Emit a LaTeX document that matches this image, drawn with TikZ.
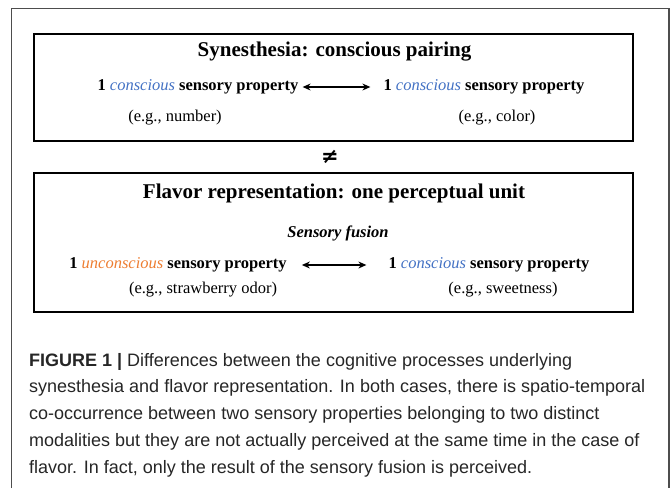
\documentclass[tikz,border=0pt]{standalone}
\usepackage{fontspec}
\setmainfont{Liberation Serif}
\newfontfamily\capfont{Liberation Sans}
\newfontfamily\symfont{DejaVu Sans}
\usetikzlibrary{arrows.meta}
\definecolor{cblue}{HTML}{4472C4}
\definecolor{corange}{HTML}{ED7D31}
\definecolor{capgray}{HTML}{262626}
\definecolor{framegray}{HTML}{4D4D4D}
\begin{document}
\begin{tikzpicture}[x=1pt,y=-1pt,
  boxstyle/.style={draw=black, line width=2pt, inner sep=0pt, minimum width=599.5pt},
  titlestyle/.style={font=\fontsize{21}{24}\selectfont\bfseries, inner sep=0pt},
  rowstyle/.style={font=\fontsize{16.5}{19}\selectfont\bfseries, inner sep=0pt},
  egstyle/.style={font=\fontsize{16.5}{19}\selectfont, inner sep=0pt},
  link/.style={{Stealth[length=8pt,width=7pt]}-{Stealth[length=8pt,width=7pt]}, line width=1.1pt},
  capstyle/.style={font=\capfont\fontsize{18}{26}\selectfont, text=capgray, anchor=base west, inner sep=0pt}
]
\useasboundingbox (0,0) rectangle (670,488);
% outer frame (open at the bottom)
\draw[framegray, line width=1.2pt] (11.5,488) -- (11.5,8.5) -- (669,8.5) -- (669,488);

% top box
\node[boxstyle, minimum height=107pt] (topbox) at (333.25,87.5) {};
\node[titlestyle] (t1) at (334.5,52) {Synesthesia: conscious pairing};
\node[rowstyle] (l1) at (198,87) {1 \textcolor{cblue}{\mdseries\itshape conscious} sensory property};
\node[rowstyle] (r1) at (484,87) {1 \textcolor{cblue}{\mdseries\itshape conscious} sensory property};
\draw[link] ([xshift=4pt]l1.east) -- ([xshift=-13pt]r1.west);
\node[egstyle] (e1) at (175,118) {(e.g., number)};
\node[egstyle] (e2) at (497,118) {(e.g., color)};

% not equal
\node[font=\symfont\bfseries\fontsize{21}{21}\selectfont, inner sep=0pt] (ne) at (330,157) {≠};

% bottom box
\node[boxstyle, minimum height=139pt] (botbox) at (333.25,242.5) {};
\node[titlestyle] (t2) at (334,193) {Flavor representation: one perceptual unit};
\node[rowstyle, font=\fontsize{16.5}{19}\selectfont\bfseries\itshape] (sf) at (338,233) {Sensory fusion};
\node[rowstyle] (l2) at (178,265) {1 \textcolor{corange}{\mdseries\itshape unconscious} sensory property};
\node[rowstyle] (r2) at (489,265) {1 \textcolor{cblue}{\mdseries\itshape conscious} sensory property};
\draw[link] ([xshift=15pt]l2.east) -- ([xshift=-22pt]r2.west);
\node[egstyle] (e3) at (203,290) {(e.g., strawberry odor)};
\node[egstyle] (e4) at (503,290) {(e.g., sweetness)};

% caption
\node[capstyle] (c1) at (29,366) {\textbf{FIGURE 1 |} Differences between the cognitive processes underlying};
\node[capstyle] (c2) at (29,392.8) {synesthesia and flavor representation. In both cases, there is spatio-temporal};
\node[capstyle] (c3) at (29,419.6) {co-occurrence between two sensory properties belonging to two distinct};
\node[capstyle] (c4) at (29,446.4) {modalities but they are not actually perceived at the same time in the case of};
\node[capstyle] (c5) at (29,473.2) {flavor. In fact, only the result of the sensory fusion is perceived.};
\end{tikzpicture}
\end{document}
